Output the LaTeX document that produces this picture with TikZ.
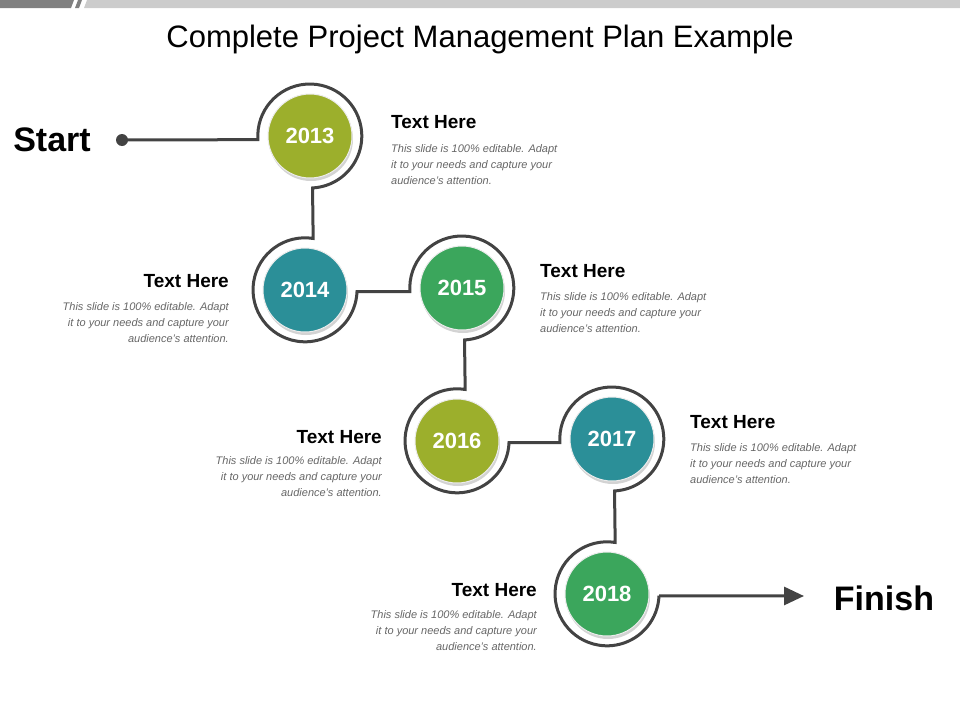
\documentclass[tikz,border=0pt]{standalone}
\usepackage{fontspec}
\setmainfont{Liberation Sans}
\usetikzlibrary{shadows,arrows.meta}
\definecolor{olivey}{HTML}{9CAF2C}
\definecolor{tealy}{HTML}{2B8F98}
\definecolor{greeny}{HTML}{3BA65C}
\definecolor{linegray}{HTML}{434343}
\tikzset{
  ring/.style={circle, minimum size=104pt, inner sep=0pt},
  year/.style={circle, minimum size=84pt, inner sep=0pt, draw=white!85!gray, line width=1pt,
    text=white, font=\bfseries\fontsize{22}{24}\selectfont,
    drop shadow={shadow xshift=1pt, shadow yshift=-3pt, opacity=0.35}},
  head/.style={font=\bfseries\fontsize{19}{22}\selectfont, inner sep=0pt},
  body/.style={font=\itshape\fontsize{11}{16}\selectfont, text=black!60, inner sep=0pt},
  link/.style={draw=linegray, line width=3pt}
}
\newcommand{\bodytext}{This slide is 100\% editable. Adapt\\it to your needs and capture your\\audience's attention.}
\begin{document}
\begin{tikzpicture}[x=1pt, y=1pt]
\useasboundingbox (0,0) rectangle (960,-720);
% top bar
\fill[black!50] (0,0) -- (74,0) -- (71,-8) -- (0,-8) -- cycle;
\fill[black!50] (78,0) -- (82,0) -- (79,-8) -- (75,-8) -- cycle;
\fill[black!20] (87,0) -- (960,0) -- (960,-8) -- (84,-8) -- cycle;
\node[font=\fontsize{31}{36}\selectfont] (title) at (480,-39) {Complete Project Management Plan Example};

% rings
\node[ring] (r13) at (310,-136) {};
\node[ring] (r14) at (305,-290) {};
\node[ring] (r15) at (462,-288) {};
\node[ring] (r16) at (457,-441) {};
\node[ring] (r17) at (612,-439) {};
\node[ring] (r18) at (607,-594) {};

% year circles
\node[year, fill=olivey] (y13) at (r13) {2013};
\node[year, fill=tealy]  (y14) at (r14) {2014};
\node[year, fill=greeny] (y15) at (r15) {2015};
\node[year, fill=olivey] (y16) at (r16) {2016};
\node[year, fill=tealy]  (y17) at (r17) {2017};
\node[year, fill=greeny] (y18) at (r18) {2018};

% start / finish
\node[font=\bfseries\fontsize{34}{38}\selectfont] (start) at (52,-140) {Start};
\node[font=\bfseries\fontsize{34}{38}\selectfont] (finish) at (884,-598) {Finish};
\fill[linegray] (122,-140) circle (6) coordinate (dot);
\coordinate (tip) at (804,-596);

% path
\draw[link] (dot) -- (r13.184) arc[start angle=184, end angle=-87, radius=52pt]
  -- (r14.81) arc[start angle=81, end angle=358, radius=52pt]
  -- (r15.184) arc[start angle=184, end angle=-87, radius=52pt]
  -- (r16.81) arc[start angle=81, end angle=358, radius=52pt]
  -- (r17.184) arc[start angle=184, end angle=-87, radius=52pt]
  -- (r18.81) arc[start angle=81, end angle=358, radius=52pt];
\draw[link, -{Triangle[length=20pt, width=18pt]}] (r18.358) -- (tip);

% texts
\node[head, anchor=base west] (h13) at (391,-128) {Text Here};
\node[body, anchor=north west, align=left] (b13) at (391,-144) {\bodytext};
\node[head, anchor=base east] (h14) at (229,-287) {Text Here};
\node[body, anchor=north east, align=right] (b14) at (229,-302) {\bodytext};
\node[head, anchor=base west] (h15) at (540,-277) {Text Here};
\node[body, anchor=north west, align=left] (b15) at (540,-292) {\bodytext};
\node[head, anchor=base east] (h16) at (382,-443) {Text Here};
\node[body, anchor=north east, align=right] (b16) at (382,-456) {\bodytext};
\node[head, anchor=base west] (h17) at (690,-428) {Text Here};
\node[body, anchor=north west, align=left] (b17) at (690,-443) {\bodytext};
\node[head, anchor=base east] (h18) at (537,-596) {Text Here};
\node[body, anchor=north east, align=right] (b18) at (537,-610) {\bodytext};
\end{tikzpicture}
\end{document}
